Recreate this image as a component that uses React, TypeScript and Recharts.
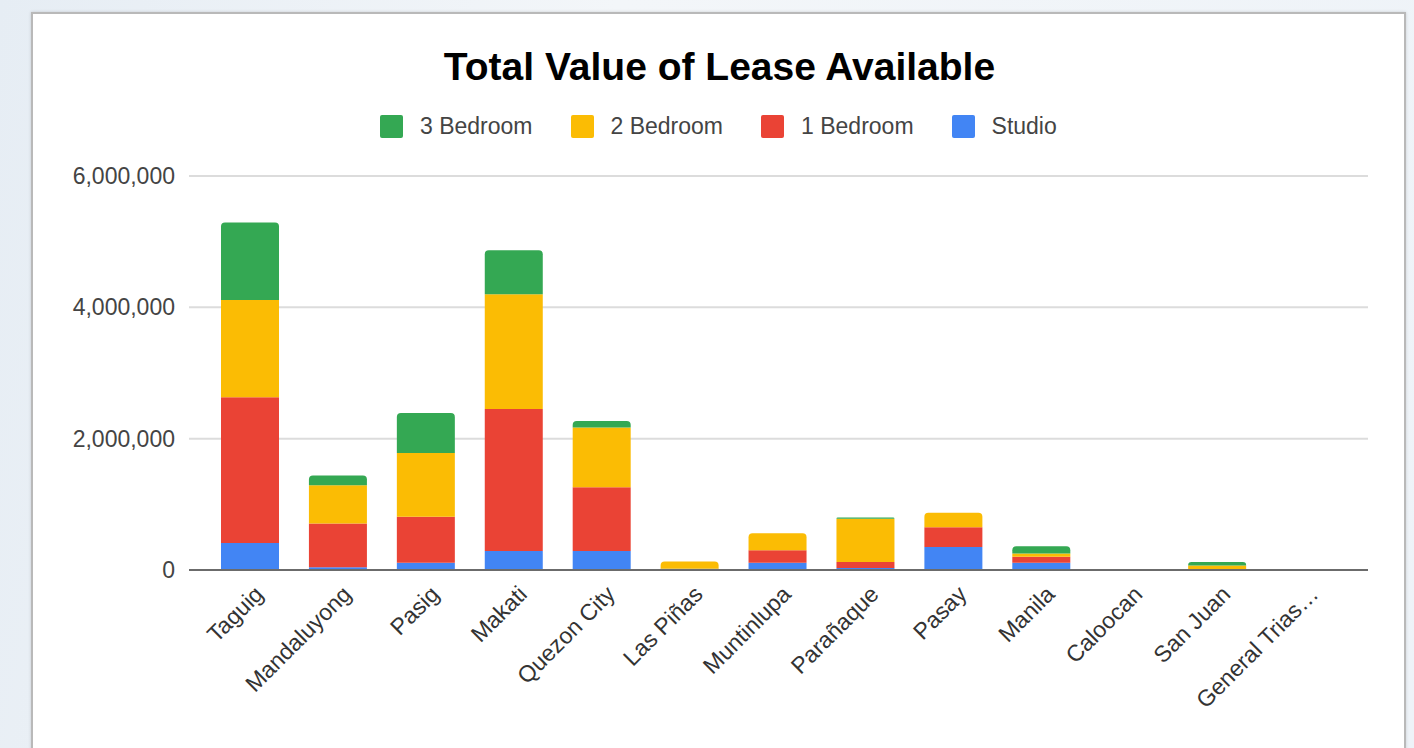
import React from 'react';
import { BarChart, Bar, XAxis, YAxis, CartesianGrid } from 'recharts';

const cities = [
  'Taguig', 'Mandaluyong', 'Pasig', 'Makati', 'Quezon City', 'Las Piñas', 'Muntinlupa',
  'Parañaque', 'Pasay', 'Manila', 'Caloocan', 'San Juan', 'General Trias…',
];
const studio = [410000, 40000, 110000, 290000, 290000, 20000, 110000, 30000, 350000, 110000, 0, 0, 0];
const oneBedroom = [2220000, 670000, 700000, 2160000, 970000, 0, 190000, 90000, 300000, 90000, 0, 0, 0];
const twoBedroom = [1480000, 580000, 970000, 1750000, 910000, 110000, 260000, 660000, 220000, 50000, 0, 70000, 0];
const threeBedroom = [1180000, 150000, 610000, 670000, 100000, 0, 0, 20000, 0, 110000, 0, 50000, 0];
const yTicks = [0, 2000000, 4000000, 6000000];

const series = [
  { key: 'studio', name: 'Studio', color: '#4285F4' },
  { key: 'oneBedroom', name: '1 Bedroom', color: '#EA4335' },
  { key: 'twoBedroom', name: '2 Bedroom', color: '#FBBC04' },
  { key: 'threeBedroom', name: '3 Bedroom', color: '#34A853' },
];

const data = cities.map((city, i) => ({
  city,
  studio: studio[i],
  oneBedroom: oneBedroom[i],
  twoBedroom: twoBedroom[i],
  threeBedroom: threeBedroom[i],
}));

const FONT = "Arial, 'Liberation Sans', sans-serif";

// only the top segment of each stack gets the rounded corners
const topKey = (row: any) => {
  let top = '';
  series.forEach((s) => {
    if (row[s.key] > 0) top = s.key;
  });
  return top;
};

const makeShape = (key: string) => (props: any) => {
  const { x, y, width, height, fill, payload } = props;
  if (!height || height <= 0) return null;
  const r = topKey(payload) === key ? Math.min(4, height) : 0;
  const d = `M${x},${y + height} L${x},${y + r} Q${x},${y} ${x + r},${y} L${x + width - r},${y} Q${x + width},${y} ${x + width},${y + r} L${x + width},${y + height} Z`;
  return <path d={d} fill={fill} />;
};

const XTick = ({ x, y, payload }: any) => {
  const ax = x + 9;
  const ay = y + 20;
  return (
    <text
      x={ax}
      y={ay}
      dy="0.35em"
      transform={`rotate(-45, ${ax}, ${ay})`}
      textAnchor="end"
      fontSize={23}
      fontFamily={FONT}
      fill="#333"
    >
      {payload.value}
    </text>
  );
};

const legendOrder = [...series].reverse();

export default function App() {
  return (
    <div
      style={{
        position: 'fixed',
        left: 0,
        top: 0,
        width: 1414,
        height: 748,
        overflow: 'hidden',
        background: 'linear-gradient(100deg, #e6edf4 0%, #f3f6f9 40%, #eef3f8 100%)',
        fontFamily: FONT,
      }}
    >
      <div
        style={{
          position: 'absolute',
          left: 31,
          top: 12,
          width: 1371,
          height: 760,
          background: '#fff',
          border: '2px solid #b9b9b9',
          boxShadow: '0 0 3px rgba(0,0,0,0.15)',
        }}
      />
      <div
        style={{
          position: 'absolute',
          left: 0,
          top: 47,
          width: 1439,
          textAlign: 'center',
          fontSize: 39,
          lineHeight: '39px',
          fontWeight: 'bold',
          color: '#000',
        }}
      >
        Total Value of Lease Available
      </div>
      <div style={{ position: 'absolute', left: 380, top: 115, display: 'flex', height: 23 }}>
        {legendOrder.map((s) => (
          <div key={s.key} style={{ display: 'flex', alignItems: 'center', marginRight: 38 }}>
            <div style={{ width: 23, height: 23, borderRadius: 2, background: s.color, marginRight: 17 }} />
            <span style={{ fontSize: 23, lineHeight: '23px', color: '#444' }}>{s.name}</span>
          </div>
        ))}
      </div>
      <div style={{ position: 'absolute', left: 0, top: 0 }}>
        <BarChart
          width={1414}
          height={748}
          data={data}
          margin={{ top: 176, right: 46, left: 0, bottom: 0 }}
          barSize={58}
        >
          <CartesianGrid vertical={false} stroke="#dcdcdc" strokeWidth={2} />
          <XAxis
            dataKey="city"
            height={178}
            interval={0}
            padding={{ left: 17, right: 19 }}
            tickLine={false}
            tickSize={0}
            tickMargin={0}
            axisLine={{ stroke: '#6b6b6b', strokeWidth: 2 }}
            tick={<XTick />}
          />
          <YAxis
            width={189}
            domain={[0, 6000000]}
            ticks={yTicks}
            axisLine={false}
            tickLine={false}
            tickSize={0}
            tickMargin={14}
            tick={{ fontSize: 23, fill: '#444', fontFamily: FONT }}
            tickFormatter={(v: number) => v.toLocaleString('en-US')}
          />
          {series.map((s) => (
            <Bar
              key={s.key}
              dataKey={s.key}
              name={s.name}
              stackId="lease"
              fill={s.color}
              shape={makeShape(s.key)}
              isAnimationActive={false}
            />
          ))}
        </BarChart>
      </div>
    </div>
  );
}
